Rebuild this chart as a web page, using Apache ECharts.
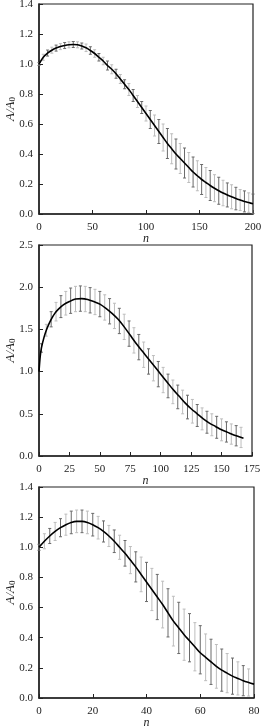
<!DOCTYPE html>
<html><head><meta charset="utf-8">
<script src="https://cdn.jsdelivr.net/npm/echarts@6/dist/echarts.min.js"></script>
<style>html,body{margin:0;padding:0;background:#fff}#c{width:261px;height:728px}</style>
</head><body><div id="c"></div>
<script>
// Panel 1
const curve1N = [0,4,8,12,16,20,24,28,32,36,40,44,48,52,56,60,64,68,72,76,80,84,88,92,96,100,104,108,112,116,120,124,128,132,136,140,144,148,152,156,160,164,168,172,176,180,184,188,192,196,200];
const curve1Y = [1.00,1.045,1.073,1.092,1.106,1.116,1.123,1.128,1.13,1.128,1.12,1.108,1.09,1.07,1.045,1.02,0.99,0.965,0.935,0.90,0.865,0.83,0.79,0.75,0.71,0.67,0.63,0.59,0.55,0.51,0.47,0.435,0.40,0.37,0.34,0.31,0.28,0.255,0.23,0.21,0.19,0.172,0.155,0.14,0.127,0.115,0.103,0.093,0.084,0.076,0.068];
const err1N = curve1N;
const err1Mid = curve1Y;
const err1Half = [0.01,0.02,0.02,0.02,0.02,0.02,0.02,0.02,0.02,0.02,0.02,0.025,0.025,0.025,0.025,0.025,0.03,0.03,0.03,0.03,0.03,0.04,0.04,0.04,0.04,0.05,0.06,0.07,0.08,0.09,0.10,0.10,0.10,0.10,0.10,0.10,0.10,0.10,0.10,0.10,0.10,0.09,0.09,0.085,0.08,0.08,0.075,0.07,0.07,0.065,0.065];
const xTicks1 = [0,50,100,150,200];
const yTicks1 = [0,0.2,0.4,0.6,0.8,1.0,1.2,1.4];

// Panel 2
const curve2N = [0,1,2,4,6,8,10,13,16,20,25,30,35,40,45,50,55,60,65,70,75,80,85,90,95,100,105,110,115,120,125,130,135,140,145,150,155,160,165,168];
const curve2Y = [1.0,1.18,1.28,1.40,1.49,1.56,1.62,1.69,1.74,1.79,1.83,1.86,1.865,1.855,1.83,1.80,1.75,1.69,1.62,1.53,1.43,1.33,1.24,1.15,1.06,0.97,0.88,0.79,0.71,0.63,0.56,0.50,0.44,0.39,0.35,0.31,0.28,0.25,0.225,0.21];
const err2N = [2,6,10,14,18,22,26,30,34,38,42,46,50,54,58,62,66,70,74,78,82,86,90,94,98,102,106,110,114,118,122,126,130,134,138,142,146,150,154,158,162,166];
const err2Mid = [1.28,1.49,1.62,1.71,1.77,1.81,1.84,1.86,1.865,1.86,1.845,1.825,1.80,1.76,1.715,1.66,1.60,1.53,1.45,1.37,1.29,1.20,1.12,1.04,0.97,0.90,0.83,0.76,0.70,0.64,0.58,0.53,0.48,0.44,0.40,0.37,0.34,0.31,0.285,0.26,0.24,0.22];
const err2Half = [0.05,0.07,0.09,0.11,0.13,0.14,0.15,0.15,0.15,0.15,0.15,0.15,0.15,0.15,0.15,0.15,0.15,0.15,0.15,0.15,0.15,0.15,0.15,0.15,0.15,0.15,0.14,0.14,0.14,0.14,0.14,0.14,0.13,0.13,0.13,0.13,0.13,0.13,0.12,0.12,0.12,0.12];
const xTicks2 = [0,25,50,75,100,125,150,175];
const yTicks2 = [0,0.5,1.0,1.5,2.0,2.5];

// Panel 3
const curve3N = [0,2,4,6,8,10,12,14,16,18,20,22,24,26,28,30,32,34,36,38,40,42,44,46,48,50,52,54,56,58,60,62,64,66,68,70,72,74,76,78,80];
const curve3Y = [1.0,1.04,1.075,1.105,1.13,1.15,1.165,1.172,1.172,1.165,1.15,1.13,1.105,1.075,1.04,1.0,0.96,0.915,0.87,0.82,0.77,0.72,0.67,0.62,0.565,0.51,0.465,0.42,0.38,0.34,0.30,0.27,0.24,0.21,0.185,0.165,0.145,0.13,0.115,0.103,0.092];
const err3N = [0,2,4,6,8,10,12,14,16,18,20,22,24,26,28,30,32,34,36,38,40,42,44,46,48,50,52,54,56,58,60,62,64,66,68,70,72,74,76,78];
const err3Mid = [1.0,1.04,1.075,1.105,1.13,1.15,1.165,1.172,1.172,1.165,1.15,1.13,1.105,1.075,1.04,1.0,0.96,0.915,0.87,0.82,0.77,0.72,0.67,0.62,0.565,0.51,0.465,0.42,0.40,0.34,0.32,0.27,0.24,0.21,0.185,0.165,0.145,0.13,0.115,0.103];
const err3Half = [0.02,0.05,0.05,0.06,0.06,0.07,0.075,0.075,0.075,0.075,0.075,0.075,0.07,0.07,0.075,0.08,0.085,0.09,0.10,0.115,0.13,0.14,0.15,0.155,0.16,0.165,0.17,0.17,0.16,0.16,0.16,0.155,0.15,0.145,0.14,0.13,0.12,0.11,0.10,0.09];
const xTicks3 = [0,20,40,60,80];
const yTicks3 = [0,0.2,0.4,0.6,0.8,1.0,1.2,1.4];

const FONT = "'Liberation Serif','Times New Roman',serif";
const chart = echarts.init(document.getElementById('c'));

const grids = [
  {left:39, top:4, width:214, height:210},
  {left:39, top:245, width:213, height:211},
  {left:39, top:487, width:215, height:211}
].map(g => Object.assign(g, {show:true, borderColor:'#222', borderWidth:1.2, backgroundColor:'transparent', containLabel:false, outerBoundsMode:'none'}));

function xAx(i, ticks){
  return {type:'value', gridIndex:i, min:ticks[0], max:ticks[ticks.length-1], interval:ticks[1]-ticks[0],
    name:'n', nameLocation:'middle', nameGap:19, nameMoveOverlap:false,
    nameTextStyle:{fontFamily:FONT, fontStyle:'italic', fontSize:12, color:'#222'},
    axisLine:{show:true, lineStyle:{color:'#222', width:1.5}},
    axisTick:{show:true, inside:true, length:4, lineStyle:{color:'#222'}},
    axisLabel:{fontFamily:FONT, fontSize:11, color:'#222', margin:8},
    splitLine:{show:false}};
}
function yAx(i, ticks){
  return {type:'value', gridIndex:i, min:ticks[0], max:ticks[ticks.length-1], interval:ticks[1]-ticks[0],
    name:'{a|A/A}{s|0}', nameLocation:'middle', nameGap:22, nameMoveOverlap:false,
    nameTextStyle:{rich:{
      a:{fontFamily:FONT, fontStyle:'italic', fontSize:13, color:'#222', lineHeight:16, verticalAlign:'bottom'},
      s:{fontFamily:FONT, fontSize:9, color:'#222', lineHeight:16, verticalAlign:'bottom'}}},
    axisLine:{show:true, lineStyle:{color:'#222', width:1.5}},
    axisTick:{show:true, inside:true, length:4, lineStyle:{color:'#222'}},
    axisLabel:{fontFamily:FONT, fontSize:11, color:'#222', margin:6, formatter:v=>v.toFixed(1)},
    splitLine:{show:false}};
}

function errData(ns, mid, half){
  return ns.map((n,k)=>[n, mid[k]-half[k], mid[k]+half[k], k%2===0?1:0]);
}
function renderErr(params, api){
  const x = api.value(0), lo = api.value(1), hi = api.value(2), dark = api.value(3);
  const a = api.coord([x, lo]), b = api.coord([x, hi]);
  const c = dark ? '#6a6a6a' : '#bdbdbd';
  const w = 1.5;
  const st = {stroke:c, lineWidth:1};
  return {type:'group', children:[
    {type:'line', shape:{x1:a[0], y1:a[1], x2:b[0], y2:b[1]}, style:st},
    {type:'line', shape:{x1:a[0]-w, y1:a[1], x2:a[0]+w, y2:a[1]}, style:st},
    {type:'line', shape:{x1:b[0]-w, y1:b[1], x2:b[0]+w, y2:b[1]}, style:st}
  ]};
}
function errSeries(i, d){
  return {type:'custom', xAxisIndex:i, yAxisIndex:i, data:d, renderItem:renderErr, silent:true, z:2};
}
function lineSeries(i, ns, ys){
  return {type:'line', xAxisIndex:i, yAxisIndex:i, data:ns.map((n,k)=>[n, ys[k]]), smooth:0.3, showSymbol:false,
    lineStyle:{color:'#000', width:1.6}, silent:true, z:3};
}

chart.setOption({
  animation:false,
  grid:grids,
  xAxis:[xAx(0,xTicks1), xAx(1,xTicks2), xAx(2,xTicks3)],
  yAxis:[yAx(0,yTicks1), yAx(1,yTicks2), yAx(2,yTicks3)],
  series:[
    errSeries(0, errData(err1N, err1Mid, err1Half)),
    lineSeries(0, curve1N, curve1Y),
    errSeries(1, errData(err2N, err2Mid, err2Half)),
    lineSeries(1, curve2N, curve2Y),
    errSeries(2, errData(err3N, err3Mid, err3Half)),
    lineSeries(2, curve3N, curve3Y)
  ]
});
</script></body></html>
